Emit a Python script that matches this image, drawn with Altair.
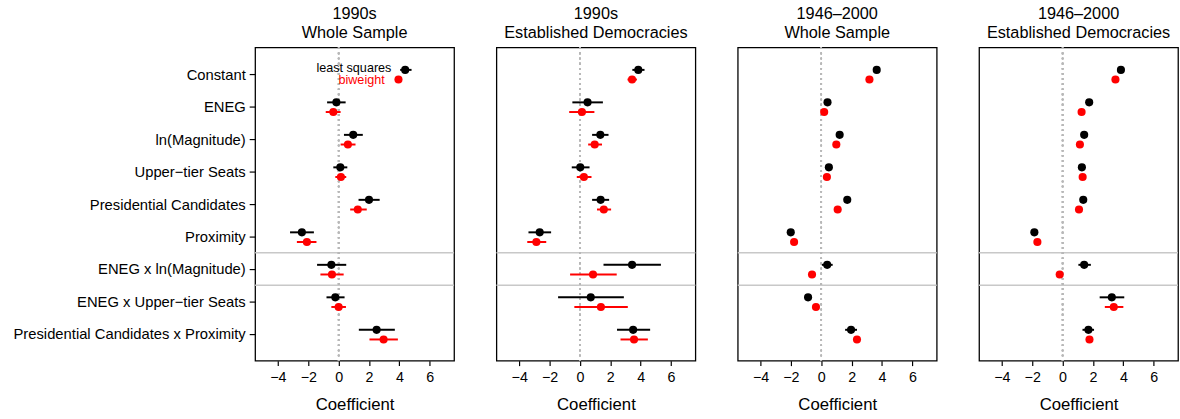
import altair as alt
import pandas as pd

terms = ["Constant", "ENEG", "ln(Magnitude)", "Upper\u2212tier Seats", "Presidential Candidates",
         "Proximity", "ENEG x ln(Magnitude)", "ENEG x Upper\u2212tier Seats",
         "Presidential Candidates x Proximity"]
separator_after = ["Proximity", "ENEG x ln(Magnitude)"]
legend_labels = ["least squares", "biweight"]
x_ticks = [-4, -2, 0, 2, 4, 6]

titles = [["1990s", "Whole Sample"], ["1990s", "Established Democracies"],
          ["1946\u20132000", "Whole Sample"], ["1946\u20132000", "Established Democracies"]]

# panel 1: 1990s whole sample
p1_ls = [4.38, -0.15, 0.96, 0.11, 2.00, -2.42, -0.48, -0.22, 2.50]
p1_ls_lo = [4.05, -0.76, 0.35, -0.35, 1.31, -3.20, -1.42, -0.80, 1.33]
p1_ls_hi = [4.80, 0.46, 1.59, 0.57, 2.70, -1.63, 0.50, 0.39, 3.70]
p1_bw = [3.94, -0.35, 0.61, 0.15, 1.26, -2.09, -0.44, 0.00, 2.96]
p1_bw_lo = [3.75, -0.85, 0.13, -0.22, 0.76, -2.75, -1.20, -0.48, 2.03]
p1_bw_hi = [4.15, 0.13, 1.11, 0.50, 1.85, -1.46, 0.33, 0.48, 3.90]

# panel 2: 1990s established democracies
p2_ls = [3.84, 0.50, 1.34, 0.02, 1.36, -2.65, 3.43, 0.71, 3.50]
p2_ls_lo = [3.45, -0.50, 0.80, -0.54, 0.80, -3.39, 1.55, -1.44, 2.44]
p2_ls_hi = [4.25, 1.51, 1.88, 0.63, 1.92, -1.90, 5.33, 2.89, 4.62]
p2_bw = [3.43, 0.13, 0.97, 0.26, 1.57, -2.87, 0.86, 1.38, 3.56]
p2_bw_lo = [3.13, -0.71, 0.54, -0.21, 1.12, -3.47, -0.65, -0.37, 2.67]
p2_bw_hi = [3.75, 0.95, 1.45, 0.76, 2.05, -2.22, 2.42, 3.15, 4.47]

# panel 3: 1946-2000 whole sample
p3_ls = [3.65, 0.41, 1.21, 0.50, 1.71, -2.01, 0.39, -0.87, 1.96]
p3_ls_lo = [3.52, 0.30, 1.10, 0.40, 1.60, -2.12, 0.04, -1.08, 1.57]
p3_ls_hi = [3.78, 0.52, 1.32, 0.60, 1.82, -1.90, 0.75, -0.65, 2.35]
p3_bw = [3.17, 0.19, 0.99, 0.37, 1.08, -1.79, -0.61, -0.35, 2.35]
p3_bw_lo = [3.07, 0.09, 0.89, 0.27, 0.98, -1.89, -0.71, -0.45, 2.25]
p3_bw_hi = [3.27, 0.29, 1.09, 0.47, 1.18, -1.69, -0.51, -0.25, 2.45]

# panel 4: 1946-2000 established democracies
p4_ls = [3.84, 1.75, 1.42, 1.27, 1.36, -1.86, 1.42, 3.24, 1.70]
p4_ls_lo = [3.70, 1.62, 1.30, 1.15, 1.24, -1.98, 1.04, 2.44, 1.31]
p4_ls_hi = [3.98, 1.88, 1.54, 1.39, 1.48, -1.74, 1.86, 4.06, 2.07]
p4_bw = [3.48, 1.25, 1.14, 1.32, 1.08, -1.66, -0.19, 3.37, 1.77]
p4_bw_lo = [3.38, 1.15, 1.04, 1.22, 0.98, -1.76, -0.30, 2.78, 1.67]
p4_bw_hi = [3.58, 1.35, 1.24, 1.42, 1.18, -1.56, -0.08, 4.00, 1.87]

panels = [
    (p1_ls, p1_ls_lo, p1_ls_hi, p1_bw, p1_bw_lo, p1_bw_hi),
    (p2_ls, p2_ls_lo, p2_ls_hi, p2_bw, p2_bw_lo, p2_bw_hi),
    (p3_ls, p3_ls_lo, p3_ls_hi, p3_bw, p3_bw_lo, p3_bw_hi),
    (p4_ls, p4_ls_lo, p4_ls_hi, p4_bw, p4_bw_lo, p4_bw_hi),
]

FONT = "Liberation Sans"
xscale = alt.Scale(domain=[-5.5, 7.6], nice=False, zero=False)
yscale = alt.Scale(type="point", padding=0.82, domain=terms)

LS_OFF = -4.3
BW_OFF = 5.5


def xaxis():
    return alt.Axis(values=x_ticks, title="Coefficient", grid=False, domain=False,
                    ticks=True, tickSize=5, tickColor="black", tickWidth=1.2,
                    labelFontSize=14.5, labelColor="black", labelPadding=5,
                    titleFontSize=17, titleFontWeight="normal", titleColor="black",
                    titlePadding=13, labelFont=FONT, titleFont=FONT)


def make_panel(i):
    ls, ls_lo, ls_hi, bw, bw_lo, bw_hi = panels[i]
    df = pd.DataFrame({"term": terms, "ls": ls, "ls_lo": ls_lo, "ls_hi": ls_hi,
                       "bw": bw, "bw_lo": bw_lo, "bw_hi": bw_hi})
    if i == 0:
        yaxis = alt.Axis(domain=False, ticks=True, tickSize=6, tickColor="black",
                         tickWidth=1.2, labelFontSize=15.0, labelColor="black",
                         labelPadding=4, grid=False, labelLimit=500, title=None,
                         labelFont=FONT)
    else:
        yaxis = None
    Y = alt.Y("term:N", sort=terms, scale=yscale, axis=yaxis, title=None)

    sep_df = pd.DataFrame({"term": separator_after})
    sep = alt.Chart(sep_df).mark_rule(color="#c8c8c8", strokeWidth=1.6, yOffset=16.5).encode(
        y=alt.Y("term:N", sort=terms, scale=yscale, axis=yaxis, title=None))

    zero = alt.Chart(df).mark_rule(color="#b8b8b8", strokeDash=[1.6, 3.6], strokeWidth=1.5).encode(
        x=alt.X(datum=0, scale=xscale, axis=xaxis()))

    base = alt.Chart(df)
    ls_bar = base.mark_rule(color="black", strokeWidth=2, yOffset=LS_OFF).encode(
        x=alt.X("ls_lo:Q", scale=xscale, axis=xaxis()), x2="ls_hi:Q", y=Y)
    ls_pt = base.mark_circle(color="black", size=68, opacity=1, yOffset=LS_OFF).encode(
        x=alt.X("ls:Q", scale=xscale, axis=xaxis()), y=Y)
    bw_bar = base.mark_rule(color="#ff0000", strokeWidth=2, yOffset=BW_OFF).encode(
        x=alt.X("bw_lo:Q", scale=xscale, axis=xaxis()), x2="bw_hi:Q", y=Y)
    bw_pt = base.mark_circle(color="#ff0000", size=68, opacity=1, yOffset=BW_OFF).encode(
        x=alt.X("bw:Q", scale=xscale, axis=xaxis()), y=Y)

    layers = [sep, zero, ls_bar, ls_pt, bw_bar, bw_pt]
    if i == 0:
        leg_ls = pd.DataFrame({"term": [terms[0]], "x": [ls[0]], "label": [legend_labels[0]]})
        leg_bw = pd.DataFrame({"term": [terms[0]], "x": [bw[0]], "label": [legend_labels[1]]})
        t1 = alt.Chart(leg_ls).mark_text(align="right", baseline="middle", xOffset=-14,
                                         yOffset=-6.0, fontSize=12.8, color="black", font=FONT).encode(
            x=alt.X("x:Q", scale=xscale, axis=xaxis()), y=Y, text="label:N")
        t2 = alt.Chart(leg_bw).mark_text(align="right", baseline="middle", xOffset=-14,
                                         yOffset=6.5, fontSize=12.8, color="#ff0000", font=FONT).encode(
            x=alt.X("x:Q", scale=xscale, axis=xaxis()), y=Y, text="label:N")
        layers += [t1, t2]

    return alt.layer(*layers).properties(
        width=202, height=318,
        title=alt.Title(titles[i], fontSize=16.5, fontWeight="normal", frame="group",
                        anchor="middle", offset=5, lineHeight=20, color="black", font=FONT))


chart = alt.hconcat(*[make_panel(i) for i in range(4)], spacing=39).properties(
    padding={"left": 12, "top": 2, "right": 0, "bottom": 2}
).configure(font=FONT).configure_view(stroke="black", strokeWidth=1.3)

chart.save("out.html", embed_options={"renderer": "svg", "actions": False})
